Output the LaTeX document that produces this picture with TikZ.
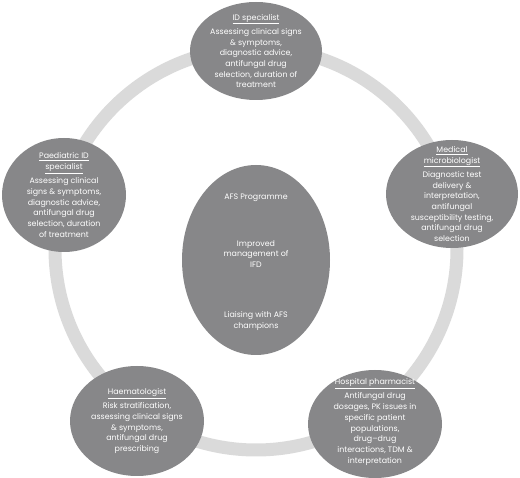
\documentclass[tikz,border=0pt]{standalone}
\usepackage{fontspec}
\setmainfont{Poppins}
\usetikzlibrary{shapes.geometric, positioning}
\definecolor{ringgray}{RGB}{218,218,218}
\definecolor{rolegray}{RGB}{135,135,137}

\begin{document}
\begin{tikzpicture}[x=1pt, y=-1pt,
    role/.style={ellipse, fill=rolegray, draw=none, inner sep=0pt},
    roletext/.style={text=white, align=center, inner sep=0pt,
        font=\fontsize{7.9}{10.7}\selectfont},
    ]
    \useasboundingbox (0,0) rectangle (520,478);

    % =================================================================
    % Ring linking the specialists
    % =================================================================
    \coordinate (O) at (256,249);
    \draw[ringgray, line width=13pt] (O) circle[radius=201pt];

    % =================================================================
    % Ellipses of the specialists and the programme
    % =================================================================
    \node[role, minimum width=132pt, minimum height=98pt] (id) at (256,51) {};
    \node[role, minimum width=124pt, minimum height=114pt] (paed) at (64,195) {};
    \node[role, minimum width=132pt, minimum height=108pt] (micro) at (452,194) {};
    \node[role, minimum width=148pt, minimum height=190pt] (afs) at (256,260) {};
    \node[role, minimum width=134pt, minimum height=110pt] (haem) at (137,421) {};
    \node[role, minimum width=134pt, minimum height=108pt] (pharm) at (375,424) {};

    % Texts
    \node[roletext] (idtext) at (id) {\underline{ID specialist}\\[3.5pt]
        Assessing clinical signs\\ \& symptoms,\\ diagnostic advice,\\
        antifungal drug\\ selection, duration of\\ treatment};
    \node[roletext] (paedtext) at (paed) {\underline{Paediatric ID}\\ \underline{specialist}\\[3.5pt]
        Assessing clinical\\ signs \& symptoms,\\ diagnostic advice,\\
        antifungal drug\\ selection, duration\\ of treatment};
    \node[roletext] (microtext) at (micro) {\underline{Medical}\\ \underline{microbiologist}\\[3.5pt]
        Diagnostic test\\ delivery \&\\ interpretation,\\ antifungal\\
        susceptibility testing,\\ antifungal drug\\ selection};
    \node[roletext] (afstext) at ([yshift=-2pt]afs.center) {AFS Programme\\[36pt]
        Improved\\ management of\\ IFD\\[39pt]
        Liaising with AFS\\ champions};
    \node[roletext] (haemtext) at (haem) {\underline{Haematologist}\\[3.5pt]
        Risk stratification,\\ assessing clinical signs\\ \& symptoms,\\
        antifungal drug\\ prescribing};
    \node[roletext] (pharmtext) at ([yshift=2pt]pharm.center) {\underline{Hospital pharmacist}\\[3.5pt]
        Antifungal drug\\ dosages, PK issues in\\ specific patient\\ populations,\\
        drug--drug\\ interactions, TDM \&\\ interpretation};

\end{tikzpicture}
\end{document}
